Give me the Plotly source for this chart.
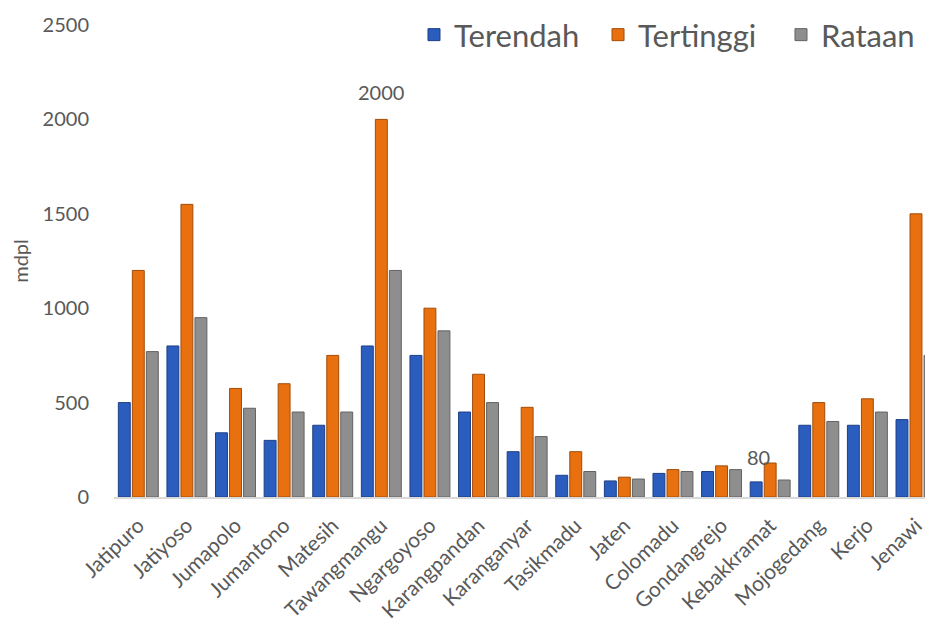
import plotly.graph_objects as go

categories = ["Jatipuro", "Jatiyoso", "Jumapolo", "Jumantono", "Matesih", "Tawangmangu",
              "Ngargoyoso", "Karangpandan", "Karanganyar", "Tasikmadu", "Jaten", "Colomadu",
              "Gondangrejo", "Kebakkramat", "Mojogedang", "Kerjo", "Jenawi"]
terendah = [500, 800, 340, 300, 380, 800, 750, 450, 240, 115, 85, 125, 135, 80, 380, 380, 410]
tertinggi = [1200, 1550, 575, 600, 750, 2000, 1000, 650, 475, 240, 105, 145, 165, 180, 500, 520, 1500]
rataan = [770, 950, 470, 450, 450, 1200, 880, 500, 320, 135, 95, 135, 145, 90, 400, 450, 750]
y_ticks = [0, 500, 1000, 1500, 2000, 2500]

FONT = "Lato"
TXT = "#595959"

fig = go.Figure()
series = [("Terendah", terendah, "#2B5DBE", "#1C3F85", "legend", 0.3663),
          ("Tertinggi", tertinggi, "#E9700F", "#A24C08", "legend2", 0.591),
          ("Rataan", rataan, "#8E8E8E", "#626262", "legend3", 0.8144)]
legends = {}
for name, vals, col, edge, lg, lx in series:
    fig.add_trace(go.Bar(name=name, x=categories, y=vals, legend=lg, showlegend=True,
                         marker=dict(color=col, line=dict(color=edge, width=1))))
    legends[lg] = dict(orientation="h", x=lx, xanchor="left", y=0.979, yanchor="middle",
                       font=dict(family=FONT, size=31, color=TXT), itemwidth=30,
                       bgcolor="rgba(0,0,0,0)")

fig.add_annotation(x="Tawangmangu", y=tertinggi[5], text="2000", showarrow=False,
                   yanchor="bottom", yshift=13, font=dict(family=FONT, size=20, color=TXT))
fig.add_annotation(x="Kebakkramat", y=terendah[13], text="80", showarrow=False,
                   yanchor="bottom", yshift=11, xshift=-12, font=dict(family=FONT, size=20, color=TXT))

# page body adds an 8px offset; figure is sized/margined to compensate
fig.update_layout(
    width=925, height=619,
    margin=dict(l=106, r=0, t=14, b=130),
    plot_bgcolor="white", paper_bgcolor="white",
    showlegend=True,
    barmode="group", bargap=0.135, bargroupgap=0.15,
    font=dict(family=FONT, color=TXT),
    xaxis=dict(range=[-0.5, 16.35], tickangle=-44, tickfont=dict(size=21, color=TXT),
               showline=True, linecolor="#D9D9D9", linewidth=2, ticks="", automargin=False,
               ticklabelstandoff=6),
    yaxis=dict(range=[0, 2500], tickvals=y_ticks, showgrid=False, zeroline=False,
               tickfont=dict(size=20, color=TXT), ticklabelstandoff=24, automargin=False,
               title=dict(text="mdpl", font=dict(size=20, color=TXT), standoff=28)),
    **legends,
)
fig.write_html("out.html")
